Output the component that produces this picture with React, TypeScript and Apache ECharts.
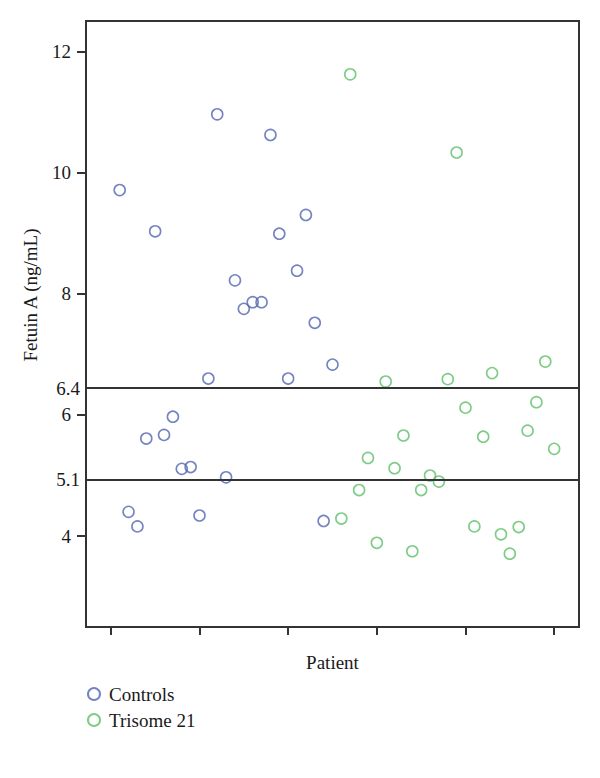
import React, { useEffect, useRef } from "react";
import * as echarts from "echarts";

// Patient index and Fetuin A (ng/mL)
const controlPatients = [1, 2, 3, 4, 5, 6, 7, 8, 9, 10, 11, 12, 13, 14, 15, 16, 17, 18, 19, 20, 21, 22, 23, 24, 25];
const controlValues = [9.71, 4.40, 4.16, 5.61, 9.03, 5.67, 5.97, 5.11, 5.14, 4.34, 6.60, 10.96, 4.97, 8.22, 7.75, 7.86, 7.86, 10.62, 8.99, 6.60, 8.38, 9.30, 7.52, 4.25, 6.83];

const trisomePatients = [26, 27, 28, 29, 30, 31, 32, 33, 34, 35, 36, 37, 38, 39, 40, 41, 42, 43, 44, 45, 46, 47, 48, 49, 50];
const trisomeValues = [4.29, 11.62, 4.76, 5.29, 3.89, 6.55, 5.12, 5.66, 3.75, 4.76, 5.00, 4.90, 6.59, 10.33, 6.12, 4.16, 5.64, 6.69, 4.03, 3.71, 4.15, 5.74, 6.21, 6.88, 5.44];

const yTicks = [4, 6, 8, 10, 12];
const xTicks = [0, 10, 20, 30, 40, 50];

// Reference lines: label text and the level at which they are drawn in the picture
const thresholdLabels = ["6.4", "5.1"];
const thresholdLevels = [6.44, 4.93];

const seriesNames = ["Controls", "Trisome 21"];

const FONT = "Liberation Serif";
const TEXT = "#1a1a1a";
const AXIS = "#333333";
const FS = 19;

export default function App() {
  const ref = useRef<HTMLDivElement>(null);

  useEffect(() => {
    if (!ref.current) return;
    const chart = echarts.init(ref.current, undefined, { renderer: "svg" });
    const pts = (xs: number[], ys: number[]) => xs.map((x, i) => [x, ys[i]]);
    const option: any = {
      animation: false,
      backgroundColor: "#ffffff",
      textStyle: { fontFamily: FONT, color: TEXT },
      grid: {
        left: 86,
        right: 21,
        top: 21,
        bottom: 151,
        show: true,
        borderColor: AXIS,
        borderWidth: 2,
        containLabel: false,
      },
      xAxis: {
        type: "value",
        min: -2.8,
        max: 52.8,
        name: "Patient",
        nameLocation: "middle",
        nameGap: 26,
        nameTextStyle: { fontFamily: FONT, fontSize: FS, color: TEXT },
        splitLine: { show: false },
        axisLine: { show: true, onZero: false, lineStyle: { color: AXIS, width: 2 } },
        axisTick: { show: true, inside: false, length: 8, customValues: xTicks, lineStyle: { color: AXIS, width: 2 } },
        axisLabel: { show: false },
      },
      yAxis: {
        type: "value",
        min: 2.5,
        max: 12.5,
        splitLine: { show: false },
        axisLine: { show: true, onZero: false, lineStyle: { color: AXIS, width: 2 } },
        axisTick: { show: true, inside: false, length: 9, customValues: yTicks, lineStyle: { color: AXIS, width: 2 } },
        axisLabel: {
          show: true,
          customValues: yTicks,
          margin: 15,
          fontFamily: FONT,
          fontSize: FS,
          color: TEXT,
        },
      },
      legend: {
        orient: "vertical",
        left: 87,
        top: 684,
        padding: 0,
        itemWidth: 12,
        itemHeight: 12,
        itemGap: 6,
        textStyle: { fontFamily: FONT, fontSize: FS, color: TEXT, lineHeight: 20, padding: [0, 0, 0, 4] },
        data: seriesNames,
      },
      graphic: [
        {
          type: "text",
          x: 30,
          y: 295,
          rotation: Math.PI / 2,
          style: {
            text: "Fetuin A (ng/mL)",
            fontFamily: FONT,
            fontSize: FS,
            fill: TEXT,
            align: "center",
            verticalAlign: "middle",
          },
        },
      ],
      series: [
        {
          name: seriesNames[0],
          type: "scatter",
          symbol: "circle",
          symbolSize: 11,
          itemStyle: { color: "rgba(255,255,255,0)", borderColor: "#5365b0", borderWidth: 1.6 },
          data: pts(controlPatients, controlValues),
          markLine: {
            silent: true,
            symbol: ["none", "none"],
            lineStyle: { color: AXIS, width: 2, type: "solid" },
            label: {
              show: true,
              position: "start",
              distance: 6,
              fontFamily: FONT,
              fontSize: FS,
              color: TEXT,
              formatter: (p: any) => thresholdLabels[p.dataIndex],
            },
            data: thresholdLevels.map((v) => ({ yAxis: v })),
          },
          z: 3,
        },
        {
          name: seriesNames[1],
          type: "scatter",
          symbol: "circle",
          symbolSize: 11,
          itemStyle: { color: "rgba(255,255,255,0)", borderColor: "#5cbf69", borderWidth: 1.6 },
          data: pts(trisomePatients, trisomeValues),
          z: 3,
        },
      ],
    };
    chart.setOption(option);
    return () => chart.dispose();
  }, []);

  return (
    <div
      ref={ref}
      style={{ position: "fixed", left: 0, top: 0, width: 600, height: 778, background: "#fff" }}
    />
  );
}
